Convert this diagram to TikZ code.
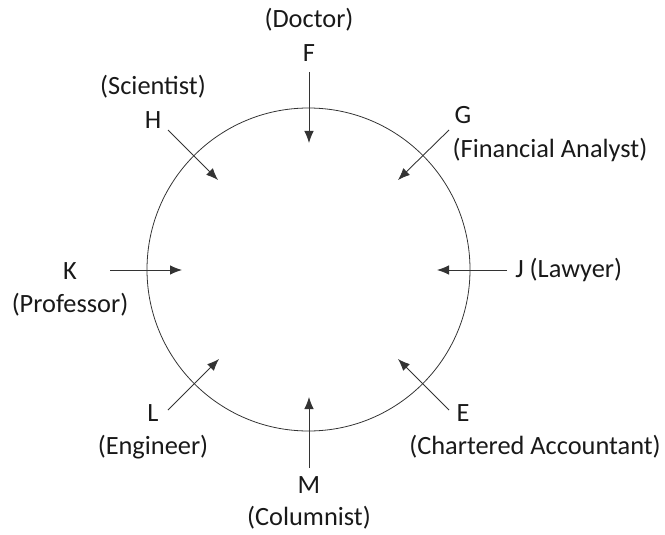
\documentclass[tikz,border=0pt]{standalone}
\usepackage{fontspec}
\setmainfont{Carlito}
\usetikzlibrary{arrows.meta, positioning}

\tikzset{
	job/.style={inner sep=0pt, font=\fontsize{15}{17}\selectfont, text=black!90},
	seat/.style={draw=black!80, line width=0.5pt, -{Latex[length=2.4mm,width=1.9mm]}}
}

\begin{document}
\begin{tikzpicture}[x=0.2mm, y=-0.2mm]
		\useasboundingbox (0,0) rectangle (665,535);
		\node[circle, draw=black!80, line width=0.45pt, minimum size=64.6mm, inner sep=0pt] (table) at (308.5,269.5) {};
		
		% names and jobs
		\node[job] (doctor) at (309,20) {(Doctor)};
		\node[job] (F) at (309,53) {F};
		\node[job] (scientist) at (153,87) {(Scientist)};
		\node[job] (H) at (153,120) {H};
		\node[job] (G) at (463,115) {G};
		\node[job] (analyst) at (550,150) {(Financial Analyst)};
		\node[job] (K) at (70,271) {K};
		\node[job] (professor) at (70,305) {(Professor)};
		\node[job, anchor=west] (J) at (515,270) {J (Lawyer)};
		\node[job] (L) at (153,413) {L};
		\node[job] (engineer) at (153,447) {(Engineer)};
		\node[job] (E) at (463,413) {E};
		\node[job] (accountant) at (535,447) {(Chartered Accountant)};
		\node[job] (M) at (309,485) {M};
		\node[job] (columnist) at (309,518) {(Columnist)};
		
		% arrow ends
		\coordinate (F1) at (309,72);  \coordinate (F2) at (309,143);
		\coordinate (H1) at (168,130); \coordinate (H2) at (218,180);
		\coordinate (G1) at (449,130); \coordinate (G2) at (398,180);
		\coordinate (K1) at (110,270); \coordinate (K2) at (182,270);
		\coordinate (J1) at (507,270); \coordinate (J2) at (437,270);
		\coordinate (L1) at (168,410); \coordinate (L2) at (219,359);
		\coordinate (E1) at (449,410); \coordinate (E2) at (398,359);
		\coordinate (M1) at (309,468); \coordinate (M2) at (309,397);
		
		\foreach \p in {F,H,G,K,J,L,E,M}
			\draw[seat] (\p1) -- (\p2);
	\end{tikzpicture}
\end{document}
